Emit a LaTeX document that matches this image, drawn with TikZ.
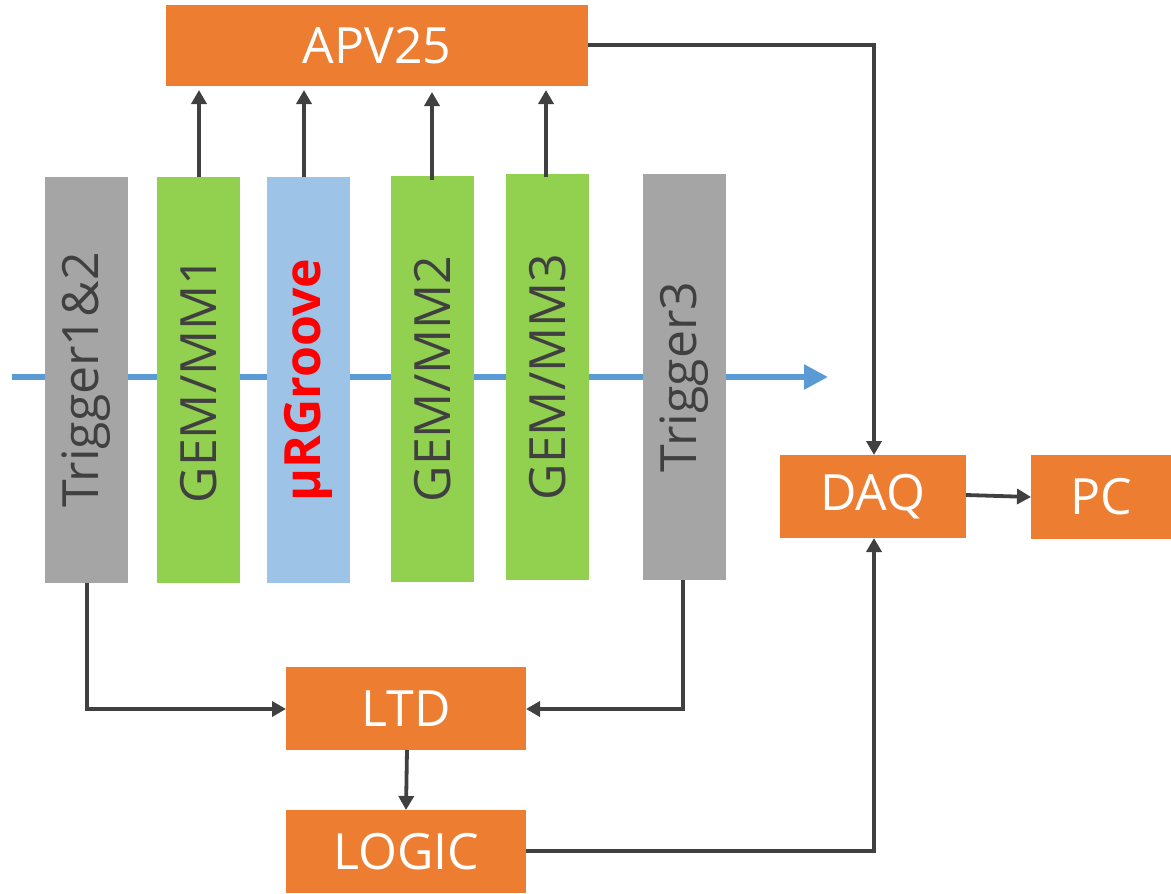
\documentclass[tikz,border=0pt]{standalone}
\usepackage{fontspec}
\setmainfont{Open Sans}
\usetikzlibrary{arrows.meta}
\definecolor{orangeb}{HTML}{ED7D31}
\definecolor{grayb}{HTML}{A5A5A5}
\definecolor{greenb}{HTML}{92D050}
\definecolor{blueb}{HTML}{9DC3E6}
\definecolor{beam}{HTML}{5B9BD5}
\definecolor{darkt}{HTML}{404040}
\begin{document}
\begin{tikzpicture}[x=1pt,y=-1pt,
  box/.style={inner sep=0pt,outer sep=0pt,font=\fontsize{50}{54}\selectfont},
  orangebox/.style={box,fill=orangeb,text=white},
  det/.style={box,text=darkt,minimum width=83pt,minimum height=406pt},
  detlabel/.style={rotate=90,inner sep=0pt,font=\fontsize{50}{54}\selectfont,text=darkt},
  conn/.style={draw=darkt,line width=3.8pt,-{Triangle[length=14pt,width=15pt]}}]
\useasboundingbox (0,0) rectangle (1171,894);
% beam
\draw[beam,line width=5.5pt,-{Triangle[length=24pt,width=24pt]}] (12,377) -- (828,377);
% orange boxes
\node[orangebox,minimum width=422pt,minimum height=81pt] (apv) at (377,45.5) {APV25};
\node[orangebox,minimum width=186pt,minimum height=83pt] (daq) at (873,496.5) {DAQ};
\node[orangebox,minimum width=140pt,minimum height=84pt] (pc) at (1101,497) {PC};
\node[orangebox,minimum width=240pt,minimum height=83pt] (ltd) at (406,708.5) {LTD};
\node[orangebox,minimum width=240pt,minimum height=83pt] (logic) at (406,851.5) {LOGIC};
% detectors
\node[det,fill=grayb] (t12) at (86.5,380) {};
\node[detlabel] at (t12) {Trigger1\&2};
\node[det,fill=greenb] (g1) at (198.5,380) {};
\node[detlabel] at (g1) {GEM/MM1};
\node[det,fill=blueb] (ur) at (308.5,380) {};
\node[detlabel,text=red,font=\fontsize{50}{54}\selectfont\bfseries] at (ur) {µRGroove};
\node[det,fill=greenb] (g2) at (432.5,379) {};
\node[detlabel] at (g2) {GEM/MM2};
\node[det,fill=greenb] (g3) at (547.5,377) {};
\node[detlabel] at (g3) {GEM/MM3};
\node[det,fill=grayb] (t3) at (684.5,377) {};
\node[detlabel] at (t3) {Trigger3};
% connectors
\draw[conn] (199,177) -- (199,90);
\draw[conn] (304,177) -- (304,90);
\draw[conn] (432,180) -- (432,92);
\draw[conn] (546,177) -- (546,90);
\draw[conn] (apv.east|-0,45) -- (874,45) -- (daq.north-|874,0);
\draw[conn] (daq.east|-0,495) -- (pc.west|-0,497);
\draw[conn] (87,583) -- (87,709) -- (ltd.west|-0,709);
\draw[conn] (683,580) -- (683,709) -- (ltd.east|-0,709);
\draw[conn] (407,750) -- (406,810);
\draw[conn] (logic.east|-0,851) -- (874,851) -- (daq.south-|874,0);
\end{tikzpicture}
\end{document}
